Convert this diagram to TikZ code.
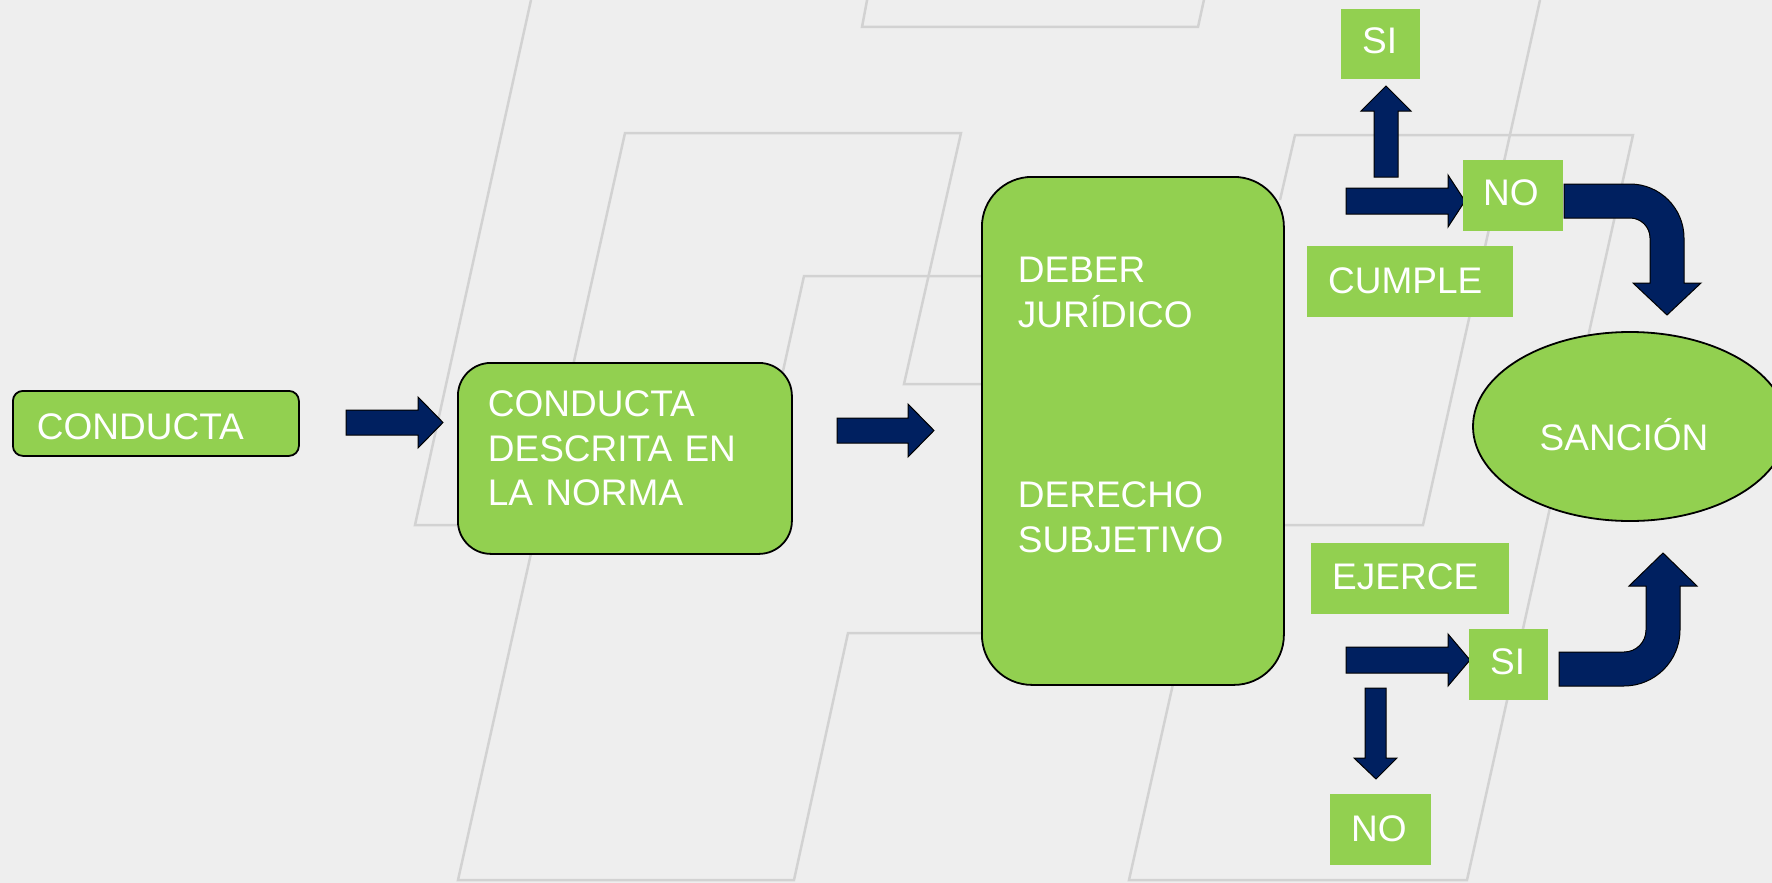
\documentclass[tikz,border=0pt]{standalone}
\usepackage{fontspec}
\setmainfont{Liberation Sans}
\usetikzlibrary{shapes.geometric}
\definecolor{bg}{HTML}{EEEEEE}
\definecolor{bgline}{HTML}{D2D2D2}
\definecolor{lgreen}{HTML}{92D050}
\definecolor{navy}{HTML}{002060}
\begin{document}
\begin{tikzpicture}[x=1pt,y=-1pt,
  every node/.style={font=\fontsize{37}{44.5}\selectfont, text=white},
  rbox/.style={draw=black, line width=1.8pt, fill=lgreen, anchor=north west, inner ysep=0pt, align=left},
  sbox/.style={fill=lgreen, anchor=north west, inner ysep=0pt, inner xsep=21pt, align=left},
  blk/.style={fill=navy, draw=black, line width=1pt, line join=miter},
  bgl/.style={draw=bgline, line width=2.5pt, line join=miter}]
\useasboundingbox (0,0) rectangle (1772,883);
\clip (0,0) rectangle (1772,883);
\fill[bg] (0,0) rectangle (1772,883);
% background pattern
\draw[bgl] (531,0) -- (415,525) -- (470,525);
\draw[bgl] (1540,0) -- (1423,525) -- (1270,525);
\draw[bgl] (868,-5) -- (862,27) -- (1198,27) -- (1205,-5);
\draw[bgl] (990,384) -- (904,384) -- (961,133) -- (625,133) -- (458,880) -- (794,880) -- (848,633) -- (990,633);
\draw[bgl] (990,276) -- (804,276) -- (749,525);
\draw[bgl] (1280,200) -- (1295,135) -- (1633,135) -- (1467,880) -- (1129,880) -- (1175,675);
% block arrows
\draw[blk] (346,410) -- (418,410) -- (418,397) -- (443,422.5) -- (418,448) -- (418,435) -- (346,435) -- cycle;
\draw[blk] (837,418) -- (908,418) -- (908,404) -- (934,430.5) -- (908,457) -- (908,443) -- (837,443) -- cycle;
\draw[blk] (1374,177) -- (1374,111) -- (1361,111) -- (1386,86) -- (1411,111) -- (1398,111) -- (1398,177) -- cycle;
\draw[blk] (1346,188) -- (1448,188) -- (1448,175) -- (1465,201) -- (1448,227) -- (1448,214) -- (1346,214) -- cycle;
\draw[blk] (1346,647) -- (1448,647) -- (1448,634) -- (1470,660) -- (1448,686) -- (1448,673) -- (1346,673) -- cycle;
\draw[blk] (1365,688) -- (1365,758) -- (1354,758) -- (1376,779) -- (1397,758) -- (1386,758) -- (1386,688) -- cycle;
% bent arrows
\draw[blk] (1564,184) -- (1630,184) .. controls (1659.8,184) and (1684,208.2) .. (1684,238)
  -- (1684,283) -- (1701,283) -- (1667,315) -- (1633,283) -- (1650,283) -- (1650,238)
  .. controls (1650,227) and (1641,218) .. (1630,218) -- (1564,218) -- cycle;
\draw[blk] (1559,652) -- (1624,652) .. controls (1636.2,652) and (1646,642.2) .. (1646,630)
  -- (1646,586) -- (1629,586) -- (1663,553) -- (1697,586) -- (1680,586) -- (1680,630)
  .. controls (1680,660.9) and (1654.9,686) .. (1624,686) -- (1559,686) -- cycle;
% boxes
\node[rbox, rounded corners=10pt, inner xsep=24pt, text width=238pt, text height=49pt, text depth=16pt] (conducta) at (12,390) {CONDUCTA};
\node[rbox, rounded corners=33pt, inner xsep=30pt, text width=274pt, text height=54pt, text depth=137pt] (norma) at (457,362) {CONDUCTA\\DESCRITA EN\\LA NORMA};
\node[rbox, rounded corners=50pt, inner xsep=36pt, text width=230pt, text height=106pt, text depth=402pt] (deber) at (981,176) {DEBER\\JURÍDICO\\[136pt]DERECHO\\SUBJETIVO};
\node[sbox, text width=37pt, text height=44pt, text depth=26pt] (si1) at (1341,9) {SI};
\node[sbox, inner xsep=20pt, text width=60pt, text height=45pt, text depth=26pt] (no1) at (1463,160) {NO};
\node[sbox, text width=164pt, text height=47pt, text depth=24pt] (cumple) at (1307,246) {CUMPLE};
\node[sbox, text width=156pt, text height=46pt, text depth=25pt] (ejerce) at (1311,543) {EJERCE};
\node[sbox, text width=37pt, text height=45pt, text depth=26pt] (si2) at (1469,629) {SI};
\node[sbox, text width=59pt, text height=47pt, text depth=24pt] (no2) at (1330,794) {NO};
\node[ellipse, draw=black, line width=1.8pt, fill=lgreen, minimum width=314pt, minimum height=189pt, inner sep=0pt, text height=47pt, text depth=0pt] (sancion) at (1630,426.5) {SANCIÓN\hspace*{12pt}};
\end{tikzpicture}
\end{document}
